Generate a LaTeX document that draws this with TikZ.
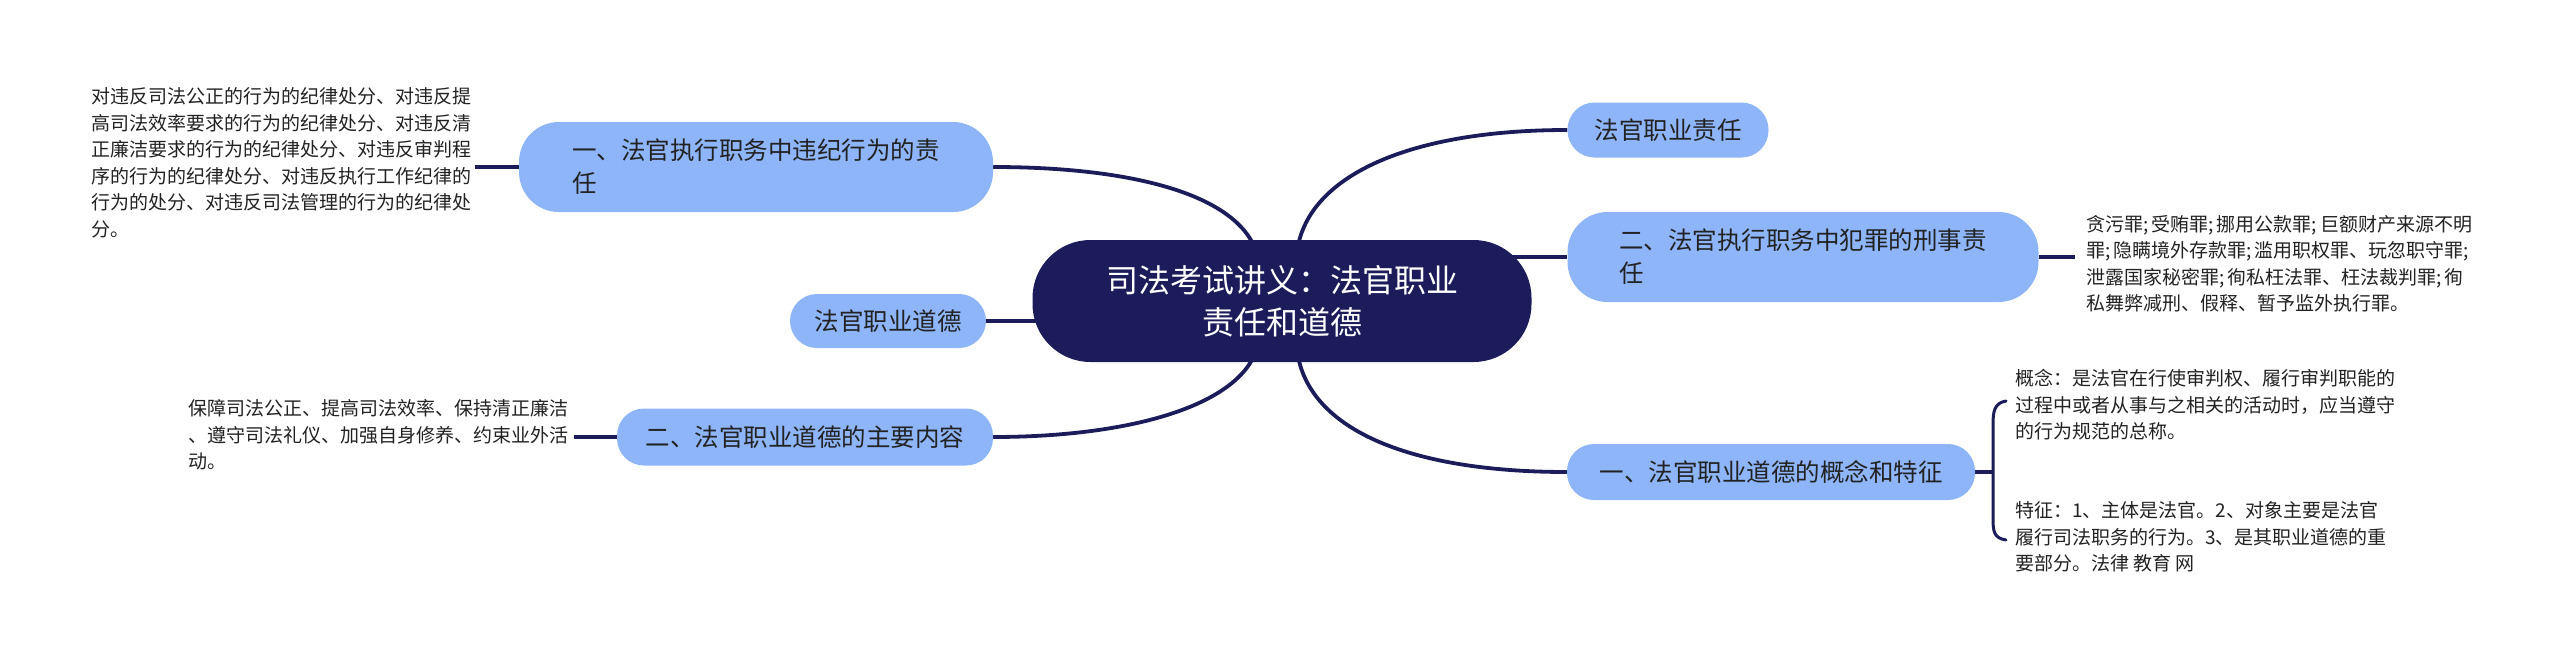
\documentclass[tikz,border=0pt]{standalone}
\usepackage{fontspec}
\setmainfont{Noto Sans CJK SC}
\usetikzlibrary{calc}
\definecolor{navy}{HTML}{1D1C5B}
\definecolor{lblue}{HTML}{8DB5F8}
\definecolor{ink}{HTML}{222222}
\pgfdeclarelayer{bg}
\pgfsetlayers{bg,main}
\newcommand{\semi}{;\hspace{3pt}}
\begin{document}
\begin{tikzpicture}[x=1pt,y=-1pt,
  topic/.style={fill=lblue, text=ink, rounded corners=27pt, inner sep=0pt,
    font=\fontsize{24.5}{33}\selectfont, align=left},
  topictwo/.style={topic, rounded corners=40pt},
  note/.style={text=ink, inner sep=0pt, font=\fontsize{19}{26.5}\selectfont,
    align=left, anchor=west},
  link/.style={draw=navy, line width=3.8pt},
  brace/.style={draw=navy, line width=3pt, line cap=round},
]
\useasboundingbox (0,0) rectangle (2560,667);

% central
\node[fill=navy, text=white, rounded corners=58pt, inner sep=0pt,
  minimum width=499pt, minimum height=122pt, align=center,
  font=\fontsize{32}{42}\selectfont] (c) at (1282,301)
  {司法考试讲义：法官职业\\责任和道德};

% topics
\node[topictwo, minimum width=474pt, minimum height=90pt] (n1) at (756,167)
  {一、法官执行职务中违纪行为的责\\任};
\node[topic, minimum width=201pt, minimum height=55pt] (n2) at (1668,130)
  {法官职业责任};
\node[topictwo, minimum width=471pt, minimum height=90pt] (n3) at (1803,257)
  {二、法官执行职务中犯罪的刑事责\\任};
\node[topic, minimum width=408pt, minimum height=56pt] (n4) at (1771,472)
  {一、法官职业道德的概念和特征};
\node[topic, minimum width=196pt, minimum height=54pt] (n5) at (888,321)
  {法官职业道德};
\node[topic, minimum width=376pt, minimum height=57pt] (n6) at (805,437)
  {二、法官职业道德的主要内容};

% notes
\node[note] (t1) at (91,163)
  {对违反司法公正的行为的纪律处分、对违反提\\
   高司法效率要求的行为的纪律处分、对违反清\\
   正廉洁要求的行为的纪律处分、对违反审判程\\
   序的行为的纪律处分、对违反执行工作纪律的\\
   行为的处分、对违反司法管理的行为的纪律处\\
   分。};
\node[note] (t6) at (188,435)
  {保障司法公正、提高司法效率、保持清正廉洁\\
   、遵守司法礼仪、加强自身修养、约束业外活\\
   动。};
\node[note] (t3) at (2086,264)
  {贪污罪\semi 受贿罪\semi 挪用公款罪\semi 巨额财产来源不明\\
   罪\semi 隐瞒境外存款罪\semi 滥用职权罪、玩忽职守罪;\\
   泄露国家秘密罪\semi 徇私枉法罪、枉法裁判罪\semi 徇\\
   私舞弊减刑、假释、暂予监外执行罪。};
\node[note] (t4a) at (2015,405)
  {概念：是法官在行使审判权、履行审判职能的\\
   过程中或者从事与之相关的活动时，应当遵守\\
   的行为规范的总称。};
\node[note] (t4b) at (2015,537)
  {特征：1、主体是法官。2、对象主要是法官\\
   履行司法职务的行为。3、是其职业道德的重\\
   要部分。法律 教育 网};

\coordinate (bx) at (1993,472);
\coordinate (bt) at (2006,401);
\coordinate (bb) at (2006,540);

\begin{pgfonlayer}{bg}
  \draw[link] ($(c.north)+(-28,6)$) .. controls (1228,190) and (1120,167) .. (n1.east);
  \draw[link] ($(c.north)+(16,6)$) .. controls (1312,175) and (1410,130) .. (n2.west);
  \draw[link] (n3.west) -- (n3.west -| c.center);
  \draw[link] (n5.east) -- (n5.east -| c.center);
  \draw[link] ($(c.south)+(-28,-6)$) .. controls (1228,410) and (1120,437) .. (n6.east);
  \draw[link] ($(c.south)+(16,-6)$) .. controls (1312,430) and (1410,472) .. (n4.west);
  \draw[link, shorten >=4pt] (n1.west) -- (n1.west -| t1.east);
  \draw[link, shorten >=6pt] (n6.west) -- (n6.west -| t6.east);
  \draw[link, shorten >=11pt] (n3.east) -- (n3.east -| t3.west);
  \draw[link] (n4.east) -- (bx);
\end{pgfonlayer}
\draw[brace] (bt) .. controls (1994,403) and (1993,412) .. (1993,425)
  -- (1993,518) .. controls (1993,532) and (1994,538) .. (bb);
\end{tikzpicture}
\end{document}
